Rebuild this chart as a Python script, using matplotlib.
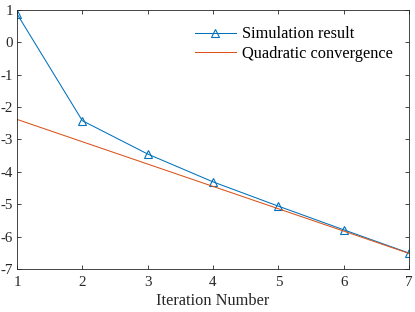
import matplotlib
matplotlib.use("Agg")
import matplotlib.pyplot as plt

iterations = [1, 2, 3, 4, 5, 6, 7]
simulation = [0.88, -2.42, -3.45, -4.31, -5.06, -5.79, -6.51]
quad_x = [1, 7]
quad_y = [-2.38, -6.52]
xticks = [1, 2, 3, 4, 5, 6, 7]
yticks = [-7, -6, -5, -4, -3, -2, -1, 0, 1]

plt.rcParams['font.family'] = ['Liberation Serif', 'DejaVu Serif']
plt.rcParams['axes.unicode_minus'] = False

fig = plt.figure(figsize=(4.15, 3.12), dpi=100)
ax = fig.add_axes([0.041, 0.138, 0.9445, 0.830])

ax.plot(iterations, simulation, color='#0072BD', lw=0.75, marker='^',
        markersize=5.5, markerfacecolor='none', markeredgewidth=0.8,
        label='Simulation result')
ax.plot(quad_x, quad_y, color='#D95319', lw=0.75, label='Quadratic convergence')

ax.set_xlim(1, 7)
ax.set_ylim(-7, 1)
ax.set_xticks(xticks)
ax.set_yticks(yticks)
ax.tick_params(direction='in', length=3, width=0.6, top=True, right=True,
               labelsize=10.8, colors='#262626')
ax.tick_params(axis='x', pad=5)
ax.tick_params(axis='y', pad=3)
for s in ax.spines.values():
    s.set_linewidth(0.6)
    s.set_color('#262626')
ax.set_xlabel('Iteration Number', fontsize=11.8, color='#262626', labelpad=3)

leg = ax.legend(loc='upper right', frameon=False, fontsize=11.8,
                handlelength=2.5, handletextpad=0.35, labelspacing=0.22,
                bbox_to_anchor=(1.0, 1.0), borderaxespad=0.6)

fig.savefig('out.png', dpi=100)
